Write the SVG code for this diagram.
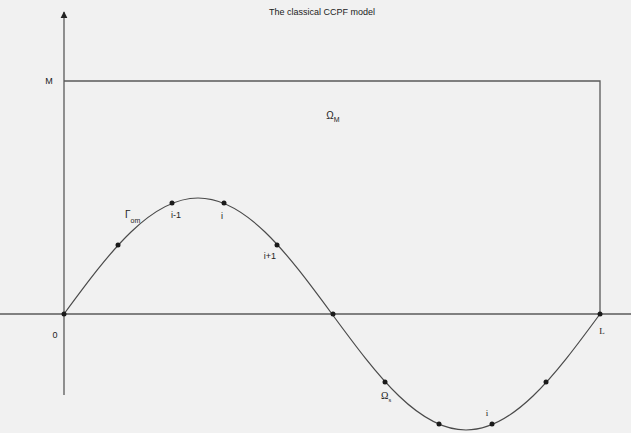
<svg xmlns="http://www.w3.org/2000/svg" width="631" height="433" viewBox="0 0 631 433">
<style>
.ln{stroke:#5a5a5a;stroke-width:1.3;fill:none}
.cv{stroke:#4a4a4a;stroke-width:1.2;fill:none}
.pt{fill:#1a1a1a}
text{font-family:"Liberation Sans",Arial,sans-serif;fill:#222;font-size:10px}
.sm{font-size:7px}
</style>
<defs>
<marker id="arr" viewBox="0 0 10 10" refX="9" refY="5" markerWidth="7" markerHeight="9" orient="auto" markerUnits="userSpaceOnUse">
<path d="M0,0 L10,5 L0,10 z" fill="#222"/>
</marker>
</defs>
<rect x="0" y="0" width="631" height="433" fill="#f1f1f1"/>
<g id="connectors">
<line class="ln" x1="64" y1="395" x2="64" y2="12" marker-end="url(#arr)"/>
<line class="ln" x1="0" y1="314" x2="631" y2="314"/>
<polyline class="ln" points="64,81 600,81 600,314"/>
<path id="curve" class="cv" d="M64,314 C86.33,283.63 108.67,253.45 131,231.98 C153.33,210.51 175.67,198 198,198 C220.33,198 242.67,210.51 265,231.98 C287.33,253.45 309.67,283.63 332,314 C354.33,344.37 376.67,374.55 399,396.02 C421.33,417.49 443.67,430 466,430 C488.33,430 510.67,417.49 533,396.02 C555.33,374.55 577.67,344.37 600,314"/>
</g>
<g id="points">
<circle class="pt" cx="64" cy="314" r="2.5"/>
<circle class="pt" cx="118" cy="245" r="2.5"/>
<circle class="pt" cx="172" cy="203" r="2.5"/>
<circle class="pt" cx="224" cy="203" r="2.5"/>
<circle class="pt" cx="277" cy="245" r="2.5"/>
<circle class="pt" cx="333" cy="314" r="2.5"/>
<circle class="pt" cx="385" cy="382" r="2.5"/>
<circle class="pt" cx="439" cy="424" r="2.5"/>
<circle class="pt" cx="492" cy="424" r="2.5"/>
<circle class="pt" cx="546" cy="382" r="2.5"/>
<circle class="pt" cx="600" cy="314" r="2.5"/>
</g>
<g id="labels">
<text x="322" y="15" text-anchor="middle" style="font-size:9px">The classical CCPF model</text>
<text x="49" y="84" text-anchor="middle" style="font-size:9px">M</text>
<text x="333" y="119" text-anchor="middle">Ω<tspan class="sm" dy="3">M</tspan></text>
<text x="125" y="218">Γ<tspan class="sm" dy="5">om</tspan></text>
<text x="176" y="218" text-anchor="middle" style="font-size:9px">i-1</text>
<text x="222" y="219" text-anchor="middle" style="font-size:9px">i</text>
<text x="270" y="259" text-anchor="middle" style="font-size:9px">i+1</text>
<text x="55" y="338" text-anchor="middle" style="font-size:9px">0</text>
<text x="602" y="334" text-anchor="middle" style="font-size:9px;font-family:'Liberation Serif',serif">L</text>
<text x="381" y="399" style="font-family:'Liberation Serif',serif">Ω<tspan class="sm" dy="3">s</tspan></text>
<text x="487" y="416" text-anchor="middle" style="font-size:9px;font-family:'Liberation Serif',serif">i</text>
</g>
</svg>
